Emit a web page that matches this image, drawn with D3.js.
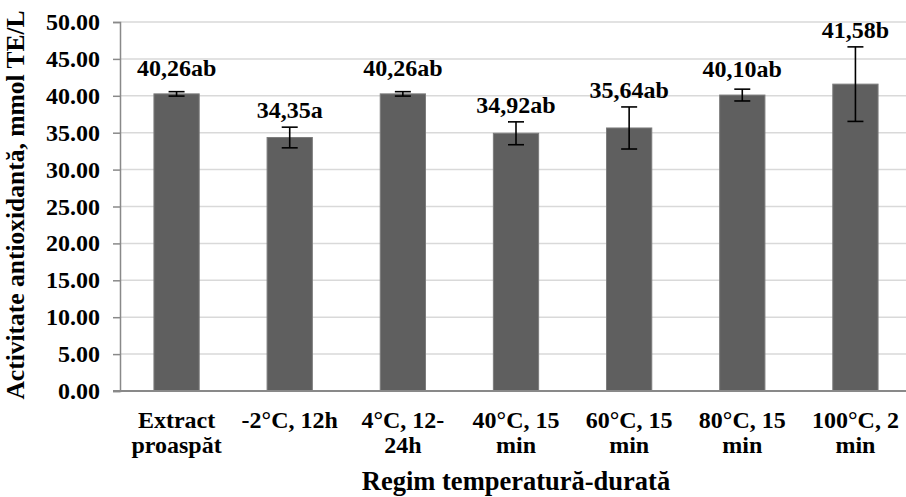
<!DOCTYPE html>
<html>
<head>
<meta charset="utf-8">
<script src="https://cdn.jsdelivr.net/npm/d3@7"></script>
<style>
  body { margin: 0; background: #fff; }
  svg { display: block; }
  text { font-family: "Liberation Serif", "Times New Roman", serif; font-weight: bold; fill: #000; }
</style>
</head>
<body>
<div class="main"></div>
<script>
// data
const categories = [
    ["Extract", "proaspăt"],
    ["-2°C, 12h"],
    ["4°C, 12-", "24h"],
    ["40°C, 15", "min"],
    ["60°C, 15", "min"],
    ["80°C, 15", "min"],
    ["100°C, 2", "min"]
];
const values = [40.26, 34.35, 40.26, 34.92, 35.64, 40.10, 41.58];
const errors = [0.30, 1.40, 0.30, 1.55, 2.85, 0.80, 5.05];
const labels = ["40,26ab", "34,35a", "40,26ab", "34,92ab", "35,64ab", "40,10ab", "41,58b"];
const yTicks = [0, 5, 10, 15, 20, 25, 30, 35, 40, 45, 50];
const yTitle = "Activitate antioxidantă, mmol TE/L";
const xTitle = "Regim temperatură-durată";

const width = 906, height = 497;
const plotLeft = 120, plotRight = 912, plotTop = 22, plotBottom = 391;

const svg = d3.select(".main").append("svg")
    .attr("width", width)
    .attr("height", height);

const x = d3.scaleBand()
    .domain(d3.range(values.length))
    .range([plotLeft, plotRight])
    .paddingInner(0.6)
    .paddingOuter(0.3);

const y = d3.scaleLinear()
    .domain([0, 50])
    .range([plotBottom, plotTop]);

const addText = function (str, tx, ty, size, anchor, rot) {
    return svg.append("text")
        .attr("transform", "translate(" + tx + "," + ty + ")" + (rot ? " rotate(" + rot + ")" : ""))
        .attr("text-anchor", anchor)
        .style("font-size", size + "px")
        .text(str);
};

// gridlines
svg.append("g").selectAll("line")
    .data(yTicks.filter(d => d > 0))
    .enter().append("line")
    .attr("x1", plotLeft)
    .attr("x2", plotRight)
    .attr("y1", d => y(d))
    .attr("y2", d => y(d))
    .attr("stroke", "#d9d9d9")
    .attr("stroke-width", 1.5);

// y axis
const yAxis = svg.append("g")
    .attr("transform", "translate(" + plotLeft + ",0)")
    .call(d3.axisLeft(y).tickValues(yTicks).tickSize(7).tickFormat(""));
yAxis.select(".domain").attr("stroke", "#898989").attr("stroke-width", 1.5);
yAxis.selectAll(".tick line").attr("stroke", "#898989").attr("stroke-width", 1.5);

yTicks.forEach(t => {
    addText(d3.format(".2f")(t), 100, y(t) + 8, 24, "end");
});

// bars
svg.append("g").selectAll("rect")
    .data(values)
    .enter().append("rect")
    .attr("x", (d, i) => x(i))
    .attr("y", d => y(d))
    .attr("width", x.bandwidth())
    .attr("height", d => y(0) - y(d))
    .attr("fill", "#5f5f5f")
    .attr("stroke", "#7c7c7c")
    .attr("stroke-width", 1);

// x axis baseline
svg.append("line")
    .attr("x1", plotLeft - 7)
    .attr("x2", plotRight)
    .attr("y1", y(0))
    .attr("y2", y(0))
    .attr("stroke", "#898989")
    .attr("stroke-width", 2);

// error bars
const err = svg.append("g").selectAll("g")
    .data(values)
    .enter().append("g")
    .attr("stroke", "#000")
    .attr("stroke-width", 1.6);

const cx = i => x(i) + x.bandwidth() / 2;
err.append("line")
    .attr("x1", (d, i) => cx(i)).attr("x2", (d, i) => cx(i))
    .attr("y1", (d, i) => y(d + errors[i]))
    .attr("y2", (d, i) => y(d - errors[i]));
err.append("line")
    .attr("x1", (d, i) => cx(i) - 8).attr("x2", (d, i) => cx(i) + 8)
    .attr("y1", (d, i) => y(d + errors[i]))
    .attr("y2", (d, i) => y(d + errors[i]));
err.append("line")
    .attr("x1", (d, i) => cx(i) - 8).attr("x2", (d, i) => cx(i) + 8)
    .attr("y1", (d, i) => y(d - errors[i]))
    .attr("y2", (d, i) => y(d - errors[i]));

// value labels, above the bar or the error bar
values.forEach((d, i) => {
    const ly = Math.min(y(d) - 18, y(d + errors[i]) - 9);
    addText(labels[i], cx(i), ly, 24, "middle");
});

// category labels
categories.forEach((lines, i) => {
    lines.forEach((line, j) => {
        addText(line, cx(i), 428 + j * 25, 24, "middle");
    });
});

// axis titles
addText(xTitle, (plotLeft + plotRight) / 2, 490, 26.5, "middle");
addText(yTitle, 24, 205, 25.5, "middle", -90);
</script>
</body>
</html>
